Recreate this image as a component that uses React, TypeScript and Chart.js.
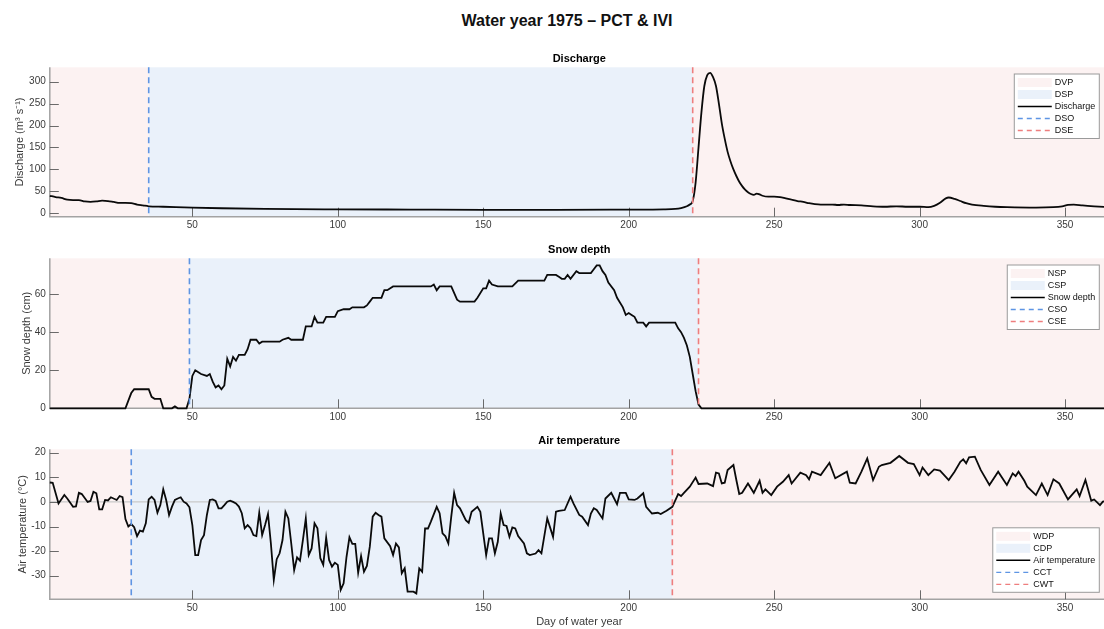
import { useEffect, useRef } from 'react';
import { Chart, registerables } from 'chart.js';

Chart.register(...registerables);

const FONT = '"Liberation Sans", Arial, Helvetica, sans-serif';

// ---- Discharge (m3/s) ----
const dischargeDays = [
  1, 3, 5, 7, 9, 11, 13, 15, 17, 19, 21, 23, 25, 27, 29, 31, 33, 35, 40, 50, 60, 75, 100, 125, 150, 175, 200, 212,
  216, 218, 220, 221, 222, 223, 224, 225, 226, 227, 228, 229, 230, 231, 232, 233, 234, 235, 236, 237, 238, 239, 240,
  241, 242, 243, 244, 245, 246, 248, 250, 252, 254, 256, 258, 260, 262, 264, 266, 268, 270, 272, 274, 276, 280, 284,
  288, 292, 296, 300, 303, 305, 307, 309, 310, 312, 314, 316, 318, 322, 326, 330, 340, 346, 349, 351, 353, 356, 360, 365,
];
const dischargeValues = [
  40, 37, 35, 31, 30, 30, 27, 26, 27, 29, 28, 26, 24, 24, 23, 20, 18, 16, 15, 13, 11.5, 10, 9, 8.5, 8, 8, 8.5, 9,
  10, 12, 16, 20, 28, 70, 150, 230, 290, 315, 320, 310, 290, 250, 205, 170, 140, 118, 100, 85, 72, 62, 54,
  48, 44, 42, 45, 43, 40, 38, 38, 37, 34, 31, 28, 26, 23, 21, 20, 20, 20, 19, 20, 19, 18, 16,
  15, 16, 15, 15, 14, 17, 24, 34, 36, 33, 28, 23, 20, 17, 15, 14, 13, 14, 16, 19, 20, 18, 16, 14,
];

// ---- Snow depth (cm) ----
const snowDays = [
  1, 27, 28, 29, 30, 35, 36, 37, 39, 40, 43, 44, 45, 48, 49, 50, 51, 53, 55, 56, 57, 58, 59, 60, 61, 62, 63, 64, 65,
  66, 68, 69, 70, 72, 73, 74, 80, 81, 83, 84, 88, 89, 91, 92, 93, 95, 96, 99, 100, 102, 104, 105, 109, 110, 111, 112,
  115, 116, 117, 119, 132, 133, 134, 135, 139, 141, 142, 147, 148, 150, 151, 152, 153, 155, 160, 162, 164, 171, 172,
  175, 176, 177, 178, 179, 180, 182, 183, 187, 188, 189, 190, 191, 192, 193, 195, 196, 198, 199, 200, 201, 202, 203,
  205, 206, 207, 216, 217, 218, 219, 220, 221, 222, 223, 224, 225, 365,
];
const snowValues = [
  0, 0, 4, 8, 10, 10, 6, 5, 5, 0, 0, 1, 0, 0, 5, 17, 20, 18, 17, 18, 14, 11, 12, 10, 12, 26, 22, 27, 25,
  28, 28, 31, 36, 36, 34, 35, 35, 36, 37, 36, 36, 43, 43, 48, 45, 45, 48, 48, 51, 52, 52, 53, 53, 54, 56, 58,
  58, 62, 62, 64, 64, 65, 62, 64, 64, 57, 56, 56, 58, 63, 63, 67, 65, 64, 64, 67, 67, 67, 70,
  70, 69, 68, 68, 70, 68, 72, 71, 71, 73, 75, 75, 72, 70, 66, 62, 58, 53, 49, 50, 49, 48, 45,
  45, 43, 45, 45, 42, 40, 37, 33, 27, 18, 9, 2, 0, 0,
];

// ---- Air temperature (°C) ----
const tempDays = [
  1, 2, 4, 6, 7, 9, 10, 11, 12, 14, 15, 16, 17, 18, 19, 20, 21, 22, 24, 25, 26, 27, 28, 29, 30, 31, 32, 33, 34, 35,
  36, 37, 38, 39, 40, 41, 42, 43, 44, 45, 46, 47, 48, 49, 50, 51, 52, 53, 54, 55, 56, 57, 58, 59, 60, 61, 62, 63, 64,
  65, 66, 67, 68, 69, 70, 71, 72, 73, 74, 75, 76, 77, 78, 79, 80, 81, 82, 83, 84, 85, 86, 87, 88, 89, 90, 91, 92, 93,
  94, 95, 96, 97, 98, 99, 100, 101, 102, 103, 104, 105, 106, 107, 108, 109, 110, 111, 112, 113, 114, 115, 116, 118,
  119, 120, 121, 122, 123, 124, 126, 127, 128, 129, 130, 131, 132, 134, 135, 136, 137, 138, 139, 140, 141, 142, 144,
  145, 146, 148, 149, 151, 152, 153, 154, 155, 156, 157, 158, 159, 160, 161, 162, 164, 165, 166, 168, 169, 170, 172,
  174, 175, 176, 178, 180, 181, 183, 184, 186, 187, 188, 189, 191, 192, 194, 196, 197, 199, 200, 202, 203, 205, 206,
  208, 210, 211, 213, 215, 217, 218, 219, 221, 223, 224, 227, 229, 230, 231, 232, 233, 234, 236, 237, 238, 239, 241,
  243, 245, 246, 247, 249, 251, 253, 255, 256, 259, 261, 262, 263, 266, 269, 271, 275, 276, 278, 280, 282, 284, 286,
  287, 290, 293, 296, 298, 300, 301, 303, 305, 307, 309, 310, 312, 314, 315, 316, 317, 319, 321, 324, 327, 330, 332,
  333, 334, 336, 337, 340, 342, 344, 346, 348, 351, 354, 355, 357, 359, 360, 362, 363, 365,
];
const tempValues = [
  7.9, 7.8, -0.6, 2.8, 1.4, -2, -1.8, 3.7, 3.2, 0, 0.4, 4.1, 3.5, -3, -3, 0.8, 0.6, 1.9, 0.8, 2.4, 1.9, -7, -10, -9,
  -10.3, -13.9, -11.7, -12.1, -8.7, 1,
  2.1, 0.8, -4.4, -1.3, 5.1, 0.8, -5.3, -1.9, 0.8, 1.4, 1.9, 0.1, -0.6, -2.2, -9.4, -21.6, -21.6, -15.5, -13.5, -5.3,
  0.8, 1, 0.4, -2.6, -2.6, -1.3, 0.1, 0.5, 0,
  -0.6, -1.9, -4.6, -10.7, -9.4, -10.7, -13.5, -13.9, -4.4, -13.5, -9.4, -4.9, -16.9, -31.7, -23.3, -20.9, -15.5, -4,
  -6.7, -16.9, -27.7, -22.6, -23.9, -15.5, -6.7, -21.6, -18.9, -8.7, -10.7,
  -22.9, -25.6, -14.5, -23.6, -26.3, -24.7, -25.6, -35.8, -33.1, -22.3, -14.4, -17.1, -17.1, -28.8, -22, -28.4, -26,
  -18.2, -6, -4.4, -5.3, -6, -14.8, -18,
  -21.6, -16.9, -18.5, -29, -27, -36.5, -36.5, -37.2, -27, -28.4, -10.8, -10.8, -8, -2, -4.6, -12.8, -14, -16.9, -6,
  3.7, -1.3, -2.6, -7.4,
  -8.5, -4, -2, -4, -21.6, -14.8, -14.8, -20.9, -16.2, -4.7, -9.4, -9.8, -14.2, -10.4, -10.8, -13.9, -16.9, -20.9,
  -21.6, -21, -19.6, -20.9, -6.7,
  -14.2, -4, -3.6, -3.3, 2.1, -0.6, -5.3, -6, -9.4, -4.7, -2.6, -3.3, -6.7, 1.4, 3.7, -0.9, 3.7, 3.7, 1, 0.8, 1.4,
  3.5, -2,
  -4.7, -4.4, -4.9, -3.6, -2, 3.2, 2.4, 3.7, 6.2, 9.9, 7.3, 7.5, 6.4, 11.9, 11.6, 7.5, 7.8, 13, 15, 8.9, 3.2, 3.7, 7.5,
  3.7, 8.6, 3.7, 5.1, 2.8, 6.2, 8.2, 10.9, 7.5, 11.9, 10.9, 9.2, 12.3, 10.9, 15.9, 9.6, 12.3, 7.8, 7.5, 12.3, 17.7,
  8.9, 14.3,
  15, 15.9, 18.7, 15.9, 15.4, 10.9, 14, 10.9, 13.2, 12.7, 10.2, 8.9, 12.3, 16.3, 17.3, 15.7, 18.1, 18.4, 13, 6.9,
  12.3, 6.9, 11.6,
  10.5, 12.3, 8.6, 6.2, 2.8, 7.5, 2.8, 9.2, 7.5, 1, 5.1, 2.4, 8.9, 0.5, 1, -1.3, 0.1, 0.5,
];

// Axis ticks
const dayTicks = [50, 100, 150, 200, 250, 300, 350];
const dischargeTicks = [0, 50, 100, 150, 200, 250, 300];
const snowTicks = [0, 20, 40, 60];
const tempTicks = [-30, -20, -10, 0, 10, 20];

// Period boundaries (day of water year)
const firstDay = 1;
const lastDay = 365;
const dischargeOnsetDay = 35;
const dischargeEndDay = 222;
const snowOnsetDay = 49;
const snowEndDay = 224;
const coldOnsetDay = 29;
const warmOnsetDay = 215;

const WARM_FILL = '#fcf2f2';
const COLD_FILL = '#eaf1fa';
const ONSET_COLOR = '#5e95e4';
const END_COLOR = '#ee7e7e';
const AXIS_COLOR = '#a3a3a3';
const TICK_COLOR = '#5a5a5a';
const TEXT_COLOR = '#3a3a3a';

type PanelSpec = {
  title: string;
  yLabel: string;
  yTitlePad: number;
  yMin: number;
  yMax: number;
  yTicks: number[];
  days: number[];
  values: number[];
  smooth: boolean;
  onset: number;
  end: number;
  legend: string[];
  legendAtBottom: boolean;
  zeroLine: boolean;
  xLabel: string | null;
  canvasTop: number;
  canvasHeight: number;
  padTop: number;
  xAxisHeight: number;
};

const CANVAS_WIDTH = 1110;
const PLOT_LEFT = 49.8;
const PLOT_RIGHT = 1108.7;

const panels: PanelSpec[] = [
  {
    title: 'Discharge',
    yLabel: 'Discharge (m³ s⁻¹)',
    yTitlePad: 13.4,
    yMin: -7.7,
    yMax: 332.6,
    yTicks: dischargeTicks,
    days: dischargeDays,
    values: dischargeValues,
    smooth: true,
    onset: dischargeOnsetDay,
    end: dischargeEndDay,
    legend: ['DVP', 'DSP', 'Discharge', 'DSO', 'DSE'],
    legendAtBottom: false,
    zeroLine: false,
    xLabel: null,
    canvasTop: 40,
    canvasHeight: 200,
    padTop: 27.3,
    xAxisHeight: 23.3,
  },
  {
    title: 'Snow depth',
    yLabel: 'Snow depth (cm)',
    yTitlePad: 20.4,
    yMin: 0,
    yMax: 78.75,
    yTicks: snowTicks,
    days: snowDays,
    values: snowValues,
    smooth: false,
    onset: snowOnsetDay,
    end: snowEndDay,
    legend: ['NSP', 'CSP', 'Snow depth', 'CSO', 'CSE'],
    legendAtBottom: false,
    zeroLine: false,
    xLabel: null,
    canvasTop: 240,
    canvasHeight: 190,
    padTop: 18.3,
    xAxisHeight: 21.7,
  },
  {
    title: 'Air temperature',
    yLabel: 'Air temperature (°C)',
    yTitlePad: 16,
    yMin: -39.6,
    yMax: 21.4,
    yTicks: tempTicks,
    days: tempDays,
    values: tempValues,
    smooth: false,
    onset: coldOnsetDay,
    end: warmOnsetDay,
    legend: ['WDP', 'CDP', 'Air temperature', 'CCT', 'CWT'],
    legendAtBottom: true,
    zeroLine: true,
    xLabel: 'Day of water year',
    canvasTop: 430,
    canvasHeight: 199,
    padTop: 19.3,
    xAxisHeight: 29.7,
  },
];

function makePanelPlugin(spec: PanelSpec) {
  return {
    id: 'panelDecor',
    beforeDraw(chart: any) {
      const { ctx, chartArea: a, scales } = chart;
      const x = scales.x;
      const xOn = x.getPixelForValue(spec.onset);
      const xEnd = x.getPixelForValue(spec.end);
      ctx.save();
      ctx.fillStyle = WARM_FILL;
      ctx.fillRect(a.left, a.top, xOn - a.left, a.bottom - a.top);
      ctx.fillRect(xEnd, a.top, a.right - xEnd, a.bottom - a.top);
      ctx.fillStyle = COLD_FILL;
      ctx.fillRect(xOn, a.top, xEnd - xOn, a.bottom - a.top);
      ctx.restore();
    },
    beforeDatasetsDraw(chart: any) {
      const { ctx, chartArea: a, scales } = chart;
      const x = scales.x;
      const y = scales.y;
      ctx.save();
      if (spec.zeroLine) {
        const y0 = y.getPixelForValue(0);
        ctx.strokeStyle = '#c9c9c9';
        ctx.lineWidth = 1.2;
        ctx.beginPath();
        ctx.moveTo(a.left, y0);
        ctx.lineTo(a.right, y0);
        ctx.stroke();
      }
      // axis lines
      ctx.strokeStyle = AXIS_COLOR;
      ctx.lineWidth = 1.5;
      ctx.beginPath();
      ctx.moveTo(a.left, a.top);
      ctx.lineTo(a.left, a.bottom);
      ctx.lineTo(a.right + 2, a.bottom);
      ctx.stroke();
      // inward tick marks
      ctx.strokeStyle = TICK_COLOR;
      ctx.lineWidth = 0.9;
      ctx.beginPath();
      for (const d of dayTicks) {
        const px = Math.round(x.getPixelForValue(d)) + 0.5;
        ctx.moveTo(px, a.bottom);
        ctx.lineTo(px, a.bottom - 9);
      }
      for (const v of spec.yTicks) {
        const py = Math.round(y.getPixelForValue(v)) + 0.5;
        ctx.moveTo(a.left, py);
        ctx.lineTo(a.left + 9, py);
      }
      ctx.stroke();
      ctx.restore();
    },
    afterDatasetsDraw(chart: any) {
      const { ctx, chartArea: a, scales } = chart;
      const x = scales.x;
      ctx.save();
      ctx.lineWidth = 1.6;
      ctx.setLineDash([6, 4]);
      const lines: [number, string][] = [
        [spec.onset, ONSET_COLOR],
        [spec.end, END_COLOR],
      ];
      for (const [day, color] of lines) {
        const px = x.getPixelForValue(day);
        ctx.strokeStyle = color;
        ctx.beginPath();
        ctx.moveTo(px, a.top);
        ctx.lineTo(px, a.bottom);
        ctx.stroke();
      }
      ctx.setLineDash([]);

      // panel title
      ctx.fillStyle = '#000';
      ctx.font = `bold 11px ${FONT}`;
      ctx.textAlign = 'center';
      ctx.textBaseline = 'middle';
      ctx.fillText(spec.title, (a.left + a.right) / 2, a.top - 8);

      // legend
      ctx.font = `9px ${FONT}`;
      const textW = Math.max(...spec.legend.map((t) => ctx.measureText(t).width));
      const rowH = 12;
      const sampleW = 34;
      const boxW = 3.5 + sampleW + 3 + textW + 4;
      const boxH = rowH * spec.legend.length + 4.5;
      const boxRight = a.right - 9.4;
      const boxLeft = boxRight - boxW;
      const boxTop = spec.legendAtBottom ? a.bottom - 7 - boxH : a.top + 6.7;
      ctx.fillStyle = '#ffffff';
      ctx.fillRect(boxLeft, boxTop, boxW, boxH);
      ctx.strokeStyle = '#9a9a9a';
      ctx.lineWidth = 1;
      ctx.strokeRect(boxLeft, boxTop, boxW, boxH);
      spec.legend.forEach((label, i) => {
        const cy = boxTop + 2.5 + rowH * i + rowH / 2;
        const sx = boxLeft + 3.5;
        if (i === 0 || i === 1) {
          ctx.fillStyle = i === 0 ? WARM_FILL : COLD_FILL;
          ctx.fillRect(sx, cy - 4.5, sampleW, 9);
        } else {
          ctx.beginPath();
          if (i === 2) {
            ctx.strokeStyle = '#000';
            ctx.lineWidth = 1.6;
            ctx.setLineDash([]);
          } else {
            ctx.strokeStyle = i === 3 ? ONSET_COLOR : END_COLOR;
            ctx.lineWidth = 1.3;
            ctx.setLineDash([5, 4]);
          }
          ctx.moveTo(sx, cy);
          ctx.lineTo(sx + sampleW, cy);
          ctx.stroke();
          ctx.setLineDash([]);
        }
        ctx.fillStyle = '#111';
        ctx.textAlign = 'left';
        ctx.textBaseline = 'middle';
        ctx.fillText(label, sx + sampleW + 3, cy + 0.5);
      });
      ctx.restore();
    },
  };
}

function Panel({ spec }: { spec: PanelSpec }) {
  const ref = useRef<HTMLCanvasElement | null>(null);
  useEffect(() => {
    if (!ref.current) return;
    const chart = new Chart(ref.current, {
      type: 'line',
      data: {
        datasets: [
          {
            label: spec.legend[2],
            data: spec.days.map((d, i) => ({ x: d, y: spec.values[i] })),
            borderColor: '#0a0a0a',
            borderWidth: 1.8,
            pointRadius: 0,
            fill: false,
            tension: 0,
            cubicInterpolationMode: spec.smooth ? 'monotone' : 'default',
            clip: false as any,
          },
        ],
      },
      options: {
        responsive: false,
        maintainAspectRatio: false,
        devicePixelRatio: 1,
        animation: false,
        events: [],
        layout: {
          padding: { top: spec.padTop, left: 0, right: CANVAS_WIDTH - PLOT_RIGHT, bottom: 0 },
        },
        plugins: {
          legend: { display: false },
          tooltip: { enabled: false },
          title: { display: false },
        },
        scales: {
          x: {
            type: 'linear',
            min: firstDay,
            max: lastDay,
            grid: { display: false, drawTicks: false },
            border: { display: false },
            afterBuildTicks: (s: any) => {
              s.ticks = dayTicks.map((v) => ({ value: v }));
            },
            afterFit: (s: any) => {
              s.height = spec.xAxisHeight;
            },
            ticks: {
              padding: 3,
              maxRotation: 0,
              autoSkip: false,
              color: TEXT_COLOR,
              font: { family: FONT, size: 10 },
            },
            title: {
              display: !!spec.xLabel,
              text: spec.xLabel || '',
              color: TEXT_COLOR,
              font: { family: FONT, size: 11 },
              padding: { top: 0, bottom: 0 },
            },
          },
          y: {
            type: 'linear',
            min: spec.yMin,
            max: spec.yMax,
            grid: { display: false, drawTicks: false },
            border: { display: false },
            afterBuildTicks: (s: any) => {
              s.ticks = spec.yTicks.map((v) => ({ value: v }));
            },
            afterFit: (s: any) => {
              s.width = PLOT_LEFT;
            },
            ticks: {
              padding: 4,
              autoSkip: false,
              color: TEXT_COLOR,
              font: { family: FONT, size: 10 },
            },
            title: {
              display: true,
              text: spec.yLabel,
              color: TEXT_COLOR,
              font: { family: FONT, size: 11 },
              padding: { top: spec.yTitlePad, bottom: 0 },
            },
          },
        },
      },
      plugins: [makePanelPlugin(spec)],
    } as any);
    return () => chart.destroy();
  }, [spec]);

  return (
    <canvas
      ref={ref}
      width={CANVAS_WIDTH}
      height={spec.canvasHeight}
      style={{
        position: 'absolute',
        left: 0,
        top: spec.canvasTop,
        width: CANVAS_WIDTH,
        height: spec.canvasHeight,
      }}
    />
  );
}

export default function App() {
  return (
    <div
      style={{
        position: 'fixed',
        left: 0,
        top: 0,
        width: 1104,
        height: 629,
        overflow: 'hidden',
        background: '#ffffff',
      }}
    >
      <div
        style={{
          position: 'absolute',
          left: 0,
          top: 11,
          width: 1134,
          textAlign: 'center',
          fontFamily: FONT,
          fontWeight: 'bold',
          fontSize: 16,
          lineHeight: '20px',
          color: '#111',
        }}
      >
        Water year 1975 – PCT &amp; IVI
      </div>
      {panels.map((p) => (
        <Panel key={p.title} spec={p} />
      ))}
    </div>
  );
}
